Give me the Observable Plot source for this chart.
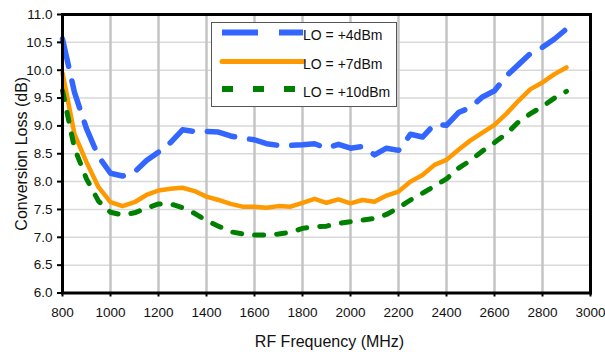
<!DOCTYPE html>
<html><head><meta charset="utf-8">
<script src="https://cdn.jsdelivr.net/npm/d3@7"></script>
<script src="https://cdn.jsdelivr.net/npm/@observablehq/plot@0.6"></script>
<style>
body{margin:0;background:#fff;font-family:Arial,"Liberation Sans",sans-serif}
#wrap{position:relative;width:605px;height:352px}
#legend{position:absolute;left:211px;top:22px}
</style></head><body><div id="wrap"></div>
<script>
const freq = [800,850,900,950,1000,1050,1100,1150,1200,1250,1300,1350,1400,1450,1500,1550,1600,1650,1700,1750,1800,1850,1900,1950,2000,2050,2100,2150,2200,2250,2300,2350,2400,2450,2500,2550,2600,2650,2700,2750,2800,2850,2900];
const lo4 = [10.56,9.6,8.95,8.45,8.15,8.1,8.17,8.38,8.53,8.7,8.93,8.9,8.9,8.89,8.82,8.78,8.75,8.68,8.65,8.65,8.66,8.68,8.6,8.67,8.6,8.63,8.48,8.6,8.56,8.85,8.8,9.03,9.01,9.24,9.33,9.52,9.63,9.9,10.1,10.3,10.41,10.56,10.74];
const lo7 = [9.95,8.85,8.35,7.9,7.63,7.56,7.63,7.76,7.84,7.87,7.89,7.83,7.73,7.67,7.6,7.55,7.55,7.53,7.56,7.55,7.62,7.69,7.62,7.68,7.61,7.67,7.64,7.75,7.82,8.0,8.12,8.3,8.39,8.57,8.74,8.88,9.02,9.22,9.45,9.66,9.78,9.93,10.05];
const lo10 = [9.63,8.6,8.05,7.65,7.45,7.4,7.44,7.52,7.6,7.6,7.53,7.43,7.3,7.2,7.1,7.06,7.04,7.04,7.06,7.09,7.16,7.19,7.2,7.25,7.28,7.31,7.34,7.41,7.53,7.67,7.79,7.92,8.05,8.24,8.38,8.55,8.7,8.86,9.07,9.22,9.35,9.5,9.62];
const seriesNames = ["LO = +4dBm","LO = +7dBm","LO = +10dBm"];
const seriesColors = ["#3366ff","#ff9900","#008000"];
const xTicks = [800,1000,1200,1400,1600,1800,2000,2200,2400,2600,2800,3000];
const yTicks = [6.0,6.5,7.0,7.5,8.0,8.5,9.0,9.5,10.0,10.5,11.0];

const rows = (vals) => freq.map((f,i)=>({f, v: vals[i]}));
const font = "Arial, 'Liberation Sans', sans-serif";

const chart = Plot.plot({
  width:605, height:352,
  marginLeft:62, marginRight:15, marginTop:14, marginBottom:59.5,
  style:{fontFamily:font, fontSize:"13.5px", color:"#111", background:"#fff", overflow:"visible"},
  x:{domain:[800,3000], label:null},
  y:{domain:[6,11], label:null},
  marks:[
    Plot.gridY(yTicks.filter(d=>d>6 && d<11), {stroke:"#d9d9d9", strokeOpacity:1, strokeWidth:1.5}),
    Plot.gridX(xTicks.filter(d=>d>800 && d<3000), {stroke:"#c4c4c4", strokeOpacity:1, strokeWidth:2.5}),
    Plot.line(rows(lo4), {x:"f", y:"v", stroke:seriesColors[0], strokeWidth:5.5, strokeDasharray:"28,15", strokeLinejoin:"round"}),
    Plot.line(rows(lo7), {x:"f", y:"v", stroke:seriesColors[1], strokeWidth:4.5, strokeLinejoin:"round"}),
    Plot.line(rows(lo10), {x:"f", y:"v", stroke:seriesColors[2], strokeWidth:5, strokeDasharray:"9,13", strokeLinejoin:"round"}),
    Plot.frame({stroke:"#000", strokeWidth:3}),
    Plot.axisX({ticks:xTicks, tickSize:4, tickPadding:10, stroke:"#000", strokeWidth:2, tickFormat:d=>String(d), fill:"#111", fontSize:13.5, label:null}),
    Plot.axisY({ticks:yTicks, tickSize:5, tickPadding:5, stroke:"#000", strokeWidth:2, tickFormat:d=>d.toFixed(1), fill:"#111", fontSize:13.5, label:null}),
    Plot.text(["RF Frequency (MHz)"], {frameAnchor:"bottom", textAnchor:"middle", lineAnchor:"middle", dx:3, dy:48.5, fontSize:16, fill:"#111"}),
    Plot.text(["Conversion Loss (dB)"], {frameAnchor:"left", textAnchor:"middle", lineAnchor:"middle", dx:-41, rotate:-90, fontSize:16, fill:"#111"})
  ]
});
const wrap = document.getElementById("wrap");
wrap.appendChild(chart);

// legend overlay
const ns = "http://www.w3.org/2000/svg";
const lg = document.createElementNS(ns,"svg");
lg.setAttribute("id","legend");
lg.setAttribute("width",187); lg.setAttribute("height",86);
lg.innerHTML = `<rect x="0.5" y="0.5" width="185" height="84" fill="#fff" stroke="#555" stroke-width="1"/>`;
const dashes = ["36,21", null, "11,20"];
const widths = [6,5,6];
const lys = [10.5, 39.5, 67];
seriesNames.forEach((n,i)=>{
  const l = document.createElementNS(ns,"line");
  l.setAttribute("x1",11); l.setAttribute("x2",92);
  l.setAttribute("y1",lys[i]); l.setAttribute("y2",lys[i]);
  l.setAttribute("stroke",seriesColors[i]); l.setAttribute("stroke-width",widths[i]);
  if (dashes[i]) l.setAttribute("stroke-dasharray",dashes[i]);
  else l.setAttribute("stroke-linecap","round");
  lg.appendChild(l);
  const t = document.createElementNS(ns,"text");
  t.setAttribute("x",92); t.setAttribute("y",lys[i]+7.5);
  t.setAttribute("font-family",font); t.setAttribute("font-size",14); t.setAttribute("fill","#111");
  t.textContent = n;
  lg.appendChild(t);
});
wrap.appendChild(lg);
</script></body></html>
